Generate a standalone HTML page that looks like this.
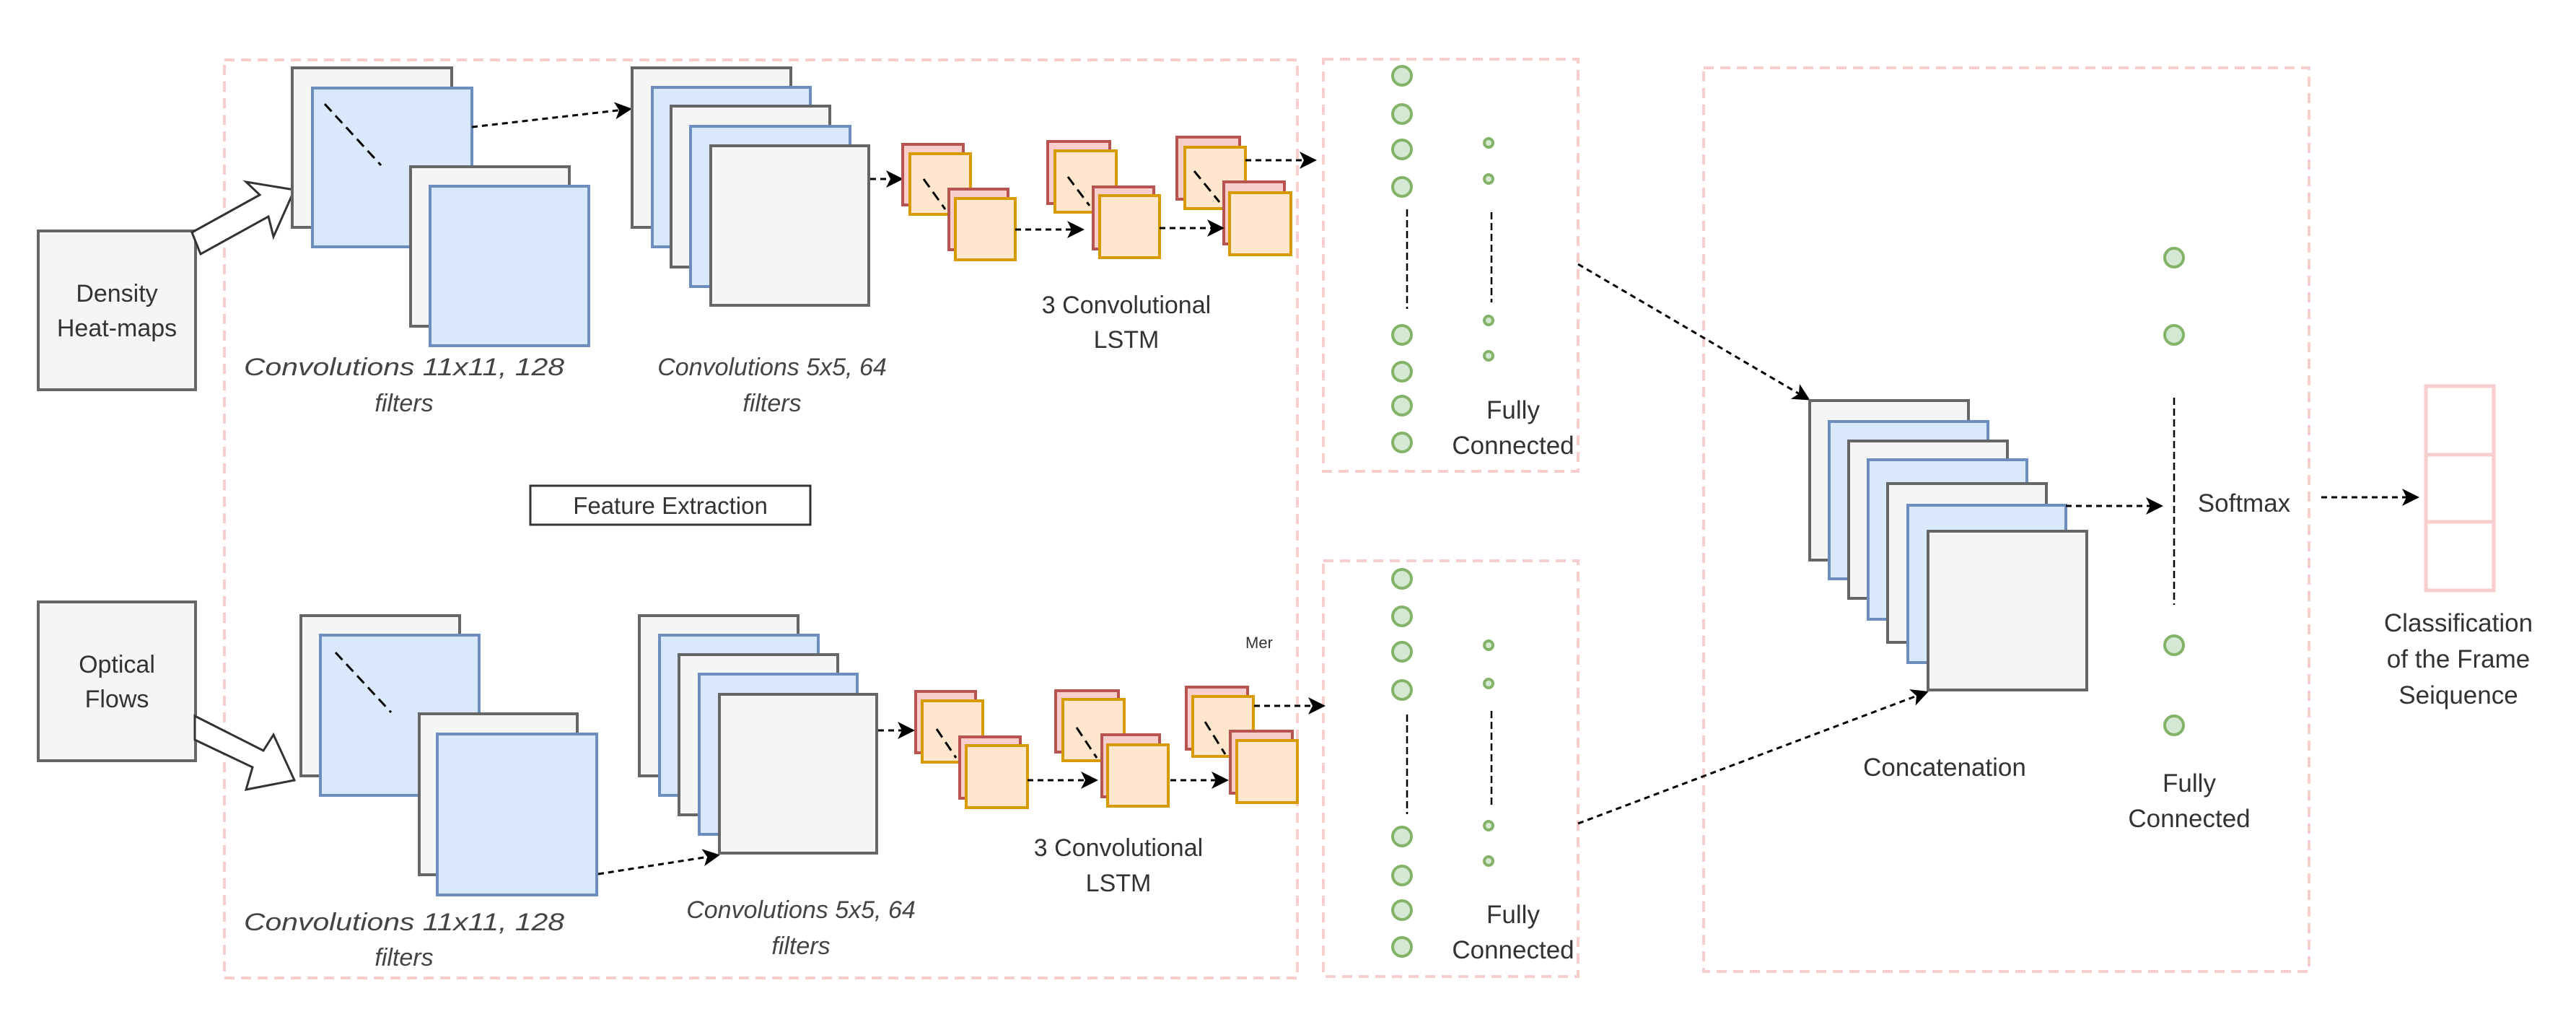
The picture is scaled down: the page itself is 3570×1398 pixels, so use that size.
<!DOCTYPE html>
<html><head><meta charset="utf-8"><style>
html,body{margin:0;padding:0;background:#fff;}
svg{display:block;}
text{font-family:"Liberation Sans",sans-serif;fill:#333;}
.it{font-style:italic;fill:#444;}
.g{fill:#f5f5f5;stroke:#666;stroke-width:4;}
.b{fill:#dae8fc;stroke:#6c8ebf;stroke-width:4;}
.r{fill:#f8cecc;stroke:#b85450;stroke-width:4;}
.o{fill:#ffe6cc;stroke:#d79b00;stroke-width:4;}
.pk{fill:none;stroke:#f8cecc;stroke-width:4;stroke-dasharray:14 9;}
.ar{stroke:#000;stroke-width:3;stroke-dasharray:8 6;fill:none;marker-end:url(#ah);}
.dl{stroke:#000;stroke-width:3;stroke-dasharray:14 8;fill:none;}
.cb{fill:#d5e8d4;stroke:#82b366;stroke-width:4;}
</style></head><body>
<svg width="3570" height="1398" viewBox="0 0 3570 1398" xmlns="http://www.w3.org/2000/svg">
<defs><marker id="ah" markerWidth="8" markerHeight="8" refX="7" refY="4" orient="auto" markerUnits="strokeWidth"><path d="M0,0 L8,4 L0,8 L2,4 Z" fill="#000"/></marker></defs>

<rect class="pk" x="311" y="83" width="1487" height="1272"/>
<rect class="pk" x="1834" y="82" width="353" height="571"/>
<rect class="pk" x="1834" y="777" width="353" height="576"/>
<rect class="pk" x="2361" y="94" width="839" height="1252"/>

<rect class="g" x="53" y="320" width="218" height="220"/>
<text x="162" y="418" font-size="34" text-anchor="middle">Density</text>
<text x="162" y="466" font-size="34" text-anchor="middle">Heat-maps</text>
<rect class="g" x="53" y="834" width="218" height="220"/>
<text x="162" y="932" font-size="34" text-anchor="middle">Optical</text>
<text x="162" y="980" font-size="34" text-anchor="middle">Flows</text>

<polygon points="266,322 360,270 341,252 408,263 379,328 372,300 278,352" fill="#fff" stroke="#333" stroke-width="3"/>
<polygon points="270,992 365,1040 379,1018 408,1081 341,1094 350,1063 270,1025" fill="#fff" stroke="#333" stroke-width="3"/>

<rect class="g" x="405" y="94" width="221" height="221"/>
<rect class="b" x="433" y="122" width="221" height="220"/>
<rect class="g" x="569" y="231" width="220" height="221"/>
<rect class="b" x="596" y="258" width="220" height="221"/>
<line class="dl" x1="450" y1="144" x2="528" y2="229"/>
<line class="ar" x1="654" y1="176" x2="873" y2="151"/>
<rect class="g" x="876" y="94" width="220" height="221"/>
<rect class="b" x="904" y="121" width="219" height="221"/>
<rect class="g" x="930" y="147" width="220" height="223"/>
<rect class="b" x="957" y="175" width="221" height="222"/>
<rect class="g" x="985" y="202" width="219" height="221"/>
<line class="ar" x1="1206" y1="248" x2="1249" y2="248"/>
<rect class="r" x="1251" y="200" width="84" height="84"/><rect class="o" x="1261" y="213" width="84" height="84"/>
<rect class="r" x="1315" y="262" width="82" height="84"/><rect class="o" x="1324" y="275" width="83" height="85"/>
<line class="dl" x1="1280" y1="248" x2="1310" y2="290" stroke-dasharray="10 12"/>
<rect class="r" x="1452" y="196" width="86" height="86"/><rect class="o" x="1462" y="209" width="85" height="85"/>
<rect class="r" x="1515" y="259" width="84" height="86"/><rect class="o" x="1524" y="271" width="83" height="86"/>
<line class="dl" x1="1480" y1="245" x2="1510" y2="285" stroke-dasharray="10 12"/>
<rect class="r" x="1631" y="190" width="87" height="86"/><rect class="o" x="1642" y="204" width="84" height="85"/>
<rect class="r" x="1696" y="252" width="84" height="86"/><rect class="o" x="1704" y="267" width="85" height="86"/>
<line class="dl" x1="1655" y1="237" x2="1690" y2="280" stroke-dasharray="10 12"/>
<line class="ar" x1="1407" y1="318" x2="1500" y2="318"/>
<line class="ar" x1="1607" y1="316" x2="1694" y2="316"/>
<line class="ar" x1="1726" y1="222" x2="1822" y2="222"/>

<text class="it" x="338" y="520" font-size="34" textLength="444" lengthAdjust="spacingAndGlyphs">Convolutions 11x11, 128</text>
<text class="it" x="560" y="570" font-size="34" text-anchor="middle">filters</text>
<text class="it" x="1070" y="520" font-size="34" text-anchor="middle">Convolutions 5x5, 64</text>
<text class="it" x="1070" y="570" font-size="34" text-anchor="middle">filters</text>
<text x="1561" y="434" font-size="34" text-anchor="middle">3 Convolutional</text>
<text x="1561" y="482" font-size="34" text-anchor="middle">LSTM</text>

<rect x="735" y="673" width="388" height="54" fill="#fff" stroke="#333" stroke-width="3"/>
<text x="929" y="712" font-size="33" text-anchor="middle">Feature Extraction</text>

<rect class="g" x="417" y="853" width="220" height="222"/>
<rect class="b" x="444" y="880" width="220" height="222"/>
<rect class="g" x="581" y="989" width="219" height="223"/>
<rect class="b" x="606" y="1017" width="221" height="223"/>
<line class="dl" x1="465" y1="904" x2="542" y2="987"/>
<line class="ar" x1="829" y1="1211" x2="995" y2="1185"/>
<rect class="g" x="886" y="853" width="220" height="222"/>
<rect class="b" x="914" y="880" width="220" height="222"/>
<rect class="g" x="941" y="907" width="220" height="222"/>
<rect class="b" x="969" y="934" width="219" height="222"/>
<rect class="g" x="997" y="962" width="218" height="220"/>
<line class="ar" x1="1217" y1="1012" x2="1265" y2="1012"/>
<rect class="r" x="1269" y="958" width="83" height="85"/><rect class="o" x="1278" y="971" width="84" height="85"/>
<rect class="r" x="1330" y="1021" width="84" height="85"/><rect class="o" x="1339" y="1033" width="85" height="86"/>
<line class="dl" x1="1298" y1="1010" x2="1325" y2="1050" stroke-dasharray="10 12"/>
<rect class="r" x="1463" y="957" width="87" height="85"/><rect class="o" x="1473" y="969" width="85" height="85"/>
<rect class="r" x="1527" y="1018" width="80" height="86"/><rect class="o" x="1535" y="1032" width="84" height="85"/>
<line class="dl" x1="1492" y1="1008" x2="1520" y2="1050" stroke-dasharray="10 12"/>
<rect class="r" x="1644" y="952" width="85" height="86"/><rect class="o" x="1653" y="965" width="84" height="83"/>
<rect class="r" x="1705" y="1013" width="86" height="86"/><rect class="o" x="1714" y="1026" width="84" height="86"/>
<line class="dl" x1="1670" y1="1000" x2="1698" y2="1045" stroke-dasharray="10 12"/>
<line class="ar" x1="1424" y1="1081" x2="1519" y2="1081"/>
<line class="ar" x1="1622" y1="1081" x2="1700" y2="1081"/>
<line class="ar" x1="1738" y1="978" x2="1834" y2="978"/>
<text x="1745" y="898" font-size="22" text-anchor="middle">Mer</text>

<text class="it" x="338" y="1289" font-size="34" textLength="444" lengthAdjust="spacingAndGlyphs">Convolutions 11x11, 128</text>
<text class="it" x="560" y="1338" font-size="34" text-anchor="middle">filters</text>
<text class="it" x="1110" y="1272" font-size="34" text-anchor="middle">Convolutions 5x5, 64</text>
<text class="it" x="1110" y="1322" font-size="34" text-anchor="middle">filters</text>
<text x="1550" y="1186" font-size="34" text-anchor="middle">3 Convolutional</text>
<text x="1550" y="1235" font-size="34" text-anchor="middle">LSTM</text>

<g>
<circle class="cb" cx="1943" cy="105" r="13"/><circle class="cb" cx="1943" cy="158" r="13"/>
<circle class="cb" cx="1943" cy="207" r="13"/><circle class="cb" cx="1943" cy="259" r="13"/>
<circle class="cb" cx="1943" cy="464" r="13"/><circle class="cb" cx="1943" cy="515" r="13"/>
<circle class="cb" cx="1943" cy="562" r="13"/><circle class="cb" cx="1943" cy="613" r="13"/>
<line x1="1950" y1="290" x2="1950" y2="428" stroke="#000" stroke-width="2.5" stroke-dasharray="10 5"/>
<circle class="cb" cx="2063" cy="198" r="6" stroke-width="3"/><circle class="cb" cx="2063" cy="248" r="6" stroke-width="3"/>
<circle class="cb" cx="2063" cy="444" r="6" stroke-width="3"/><circle class="cb" cx="2063" cy="493" r="6" stroke-width="3"/>
<line x1="2067" y1="294" x2="2067" y2="419" stroke="#000" stroke-width="2.5" stroke-dasharray="10 5"/>
<text x="2097" y="580" font-size="35" text-anchor="middle">Fully</text>
<text x="2097" y="629" font-size="35" text-anchor="middle">Connected</text>
</g>
<g>
<circle class="cb" cx="1943" cy="802" r="13"/><circle class="cb" cx="1943" cy="854" r="13"/>
<circle class="cb" cx="1943" cy="903" r="13"/><circle class="cb" cx="1943" cy="956" r="13"/>
<circle class="cb" cx="1943" cy="1159" r="13"/><circle class="cb" cx="1943" cy="1213" r="13"/>
<circle class="cb" cx="1943" cy="1261" r="13"/><circle class="cb" cx="1943" cy="1312" r="13"/>
<line x1="1950" y1="990" x2="1950" y2="1128" stroke="#000" stroke-width="2.5" stroke-dasharray="10 5"/>
<circle class="cb" cx="2063" cy="894" r="6" stroke-width="3"/><circle class="cb" cx="2063" cy="947" r="6" stroke-width="3"/>
<circle class="cb" cx="2063" cy="1144" r="6" stroke-width="3"/><circle class="cb" cx="2063" cy="1193" r="6" stroke-width="3"/>
<line x1="2067" y1="985" x2="2067" y2="1119" stroke="#000" stroke-width="2.5" stroke-dasharray="10 5"/>
<text x="2097" y="1279" font-size="35" text-anchor="middle">Fully</text>
<text x="2097" y="1328" font-size="35" text-anchor="middle">Connected</text>
</g>

<line class="ar" x1="2187" y1="366" x2="2506" y2="553"/>
<line class="ar" x1="2187" y1="1141" x2="2670" y2="959"/>

<rect class="g" x="2508" y="555" width="220" height="221"/>
<rect class="b" x="2535" y="584" width="220" height="218"/>
<rect class="g" x="2562" y="611" width="220" height="218"/>
<rect class="b" x="2589" y="637" width="220" height="221"/>
<rect class="g" x="2616" y="670" width="220" height="220"/>
<rect class="b" x="2644" y="700" width="219" height="218"/>
<rect class="g" x="2672" y="736" width="220" height="220"/>
<text x="2695" y="1075" font-size="35" text-anchor="middle">Concatenation</text>
<line class="ar" x1="2863" y1="701" x2="2995" y2="701"/>

<circle class="cb" cx="3013" cy="357" r="13"/><circle class="cb" cx="3013" cy="464" r="13"/>
<circle class="cb" cx="3013" cy="894" r="13"/><circle class="cb" cx="3013" cy="1005" r="13"/>
<line x1="3013" y1="551" x2="3013" y2="838" stroke="#000" stroke-width="2.5" stroke-dasharray="10 5"/>
<text x="3110" y="709" font-size="35" text-anchor="middle">Softmax</text>
<text x="3034" y="1097" font-size="35" text-anchor="middle">Fully</text>
<text x="3034" y="1146" font-size="35" text-anchor="middle">Connected</text>

<line class="ar" x1="3217" y1="689" x2="3350" y2="689"/>
<rect x="3362" y="535" width="94" height="95" fill="#fff" stroke="#f8cecc" stroke-width="5"/>
<rect x="3362" y="630" width="94" height="93" fill="#fff" stroke="#f8cecc" stroke-width="5"/>
<rect x="3362" y="723" width="94" height="95" fill="#fff" stroke="#f8cecc" stroke-width="5"/>
<text x="3407" y="875" font-size="35" text-anchor="middle">Classification</text>
<text x="3407" y="925" font-size="35" text-anchor="middle">of the Frame</text>
<text x="3407" y="975" font-size="35" text-anchor="middle">Seiquence</text>
</svg>
</body></html>
